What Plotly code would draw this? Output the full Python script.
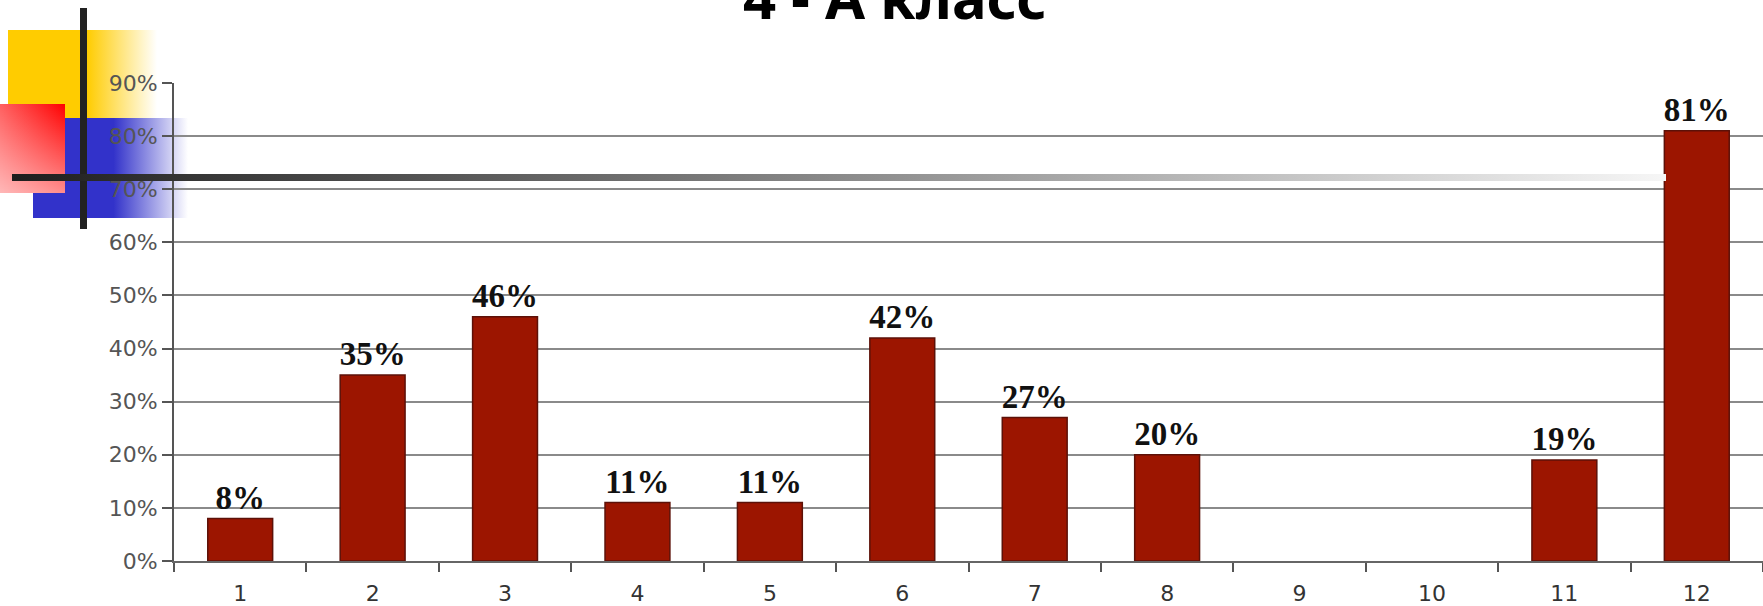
import plotly.graph_objects as go

# ---- data ----
categories = ['1', '2', '3', '4', '5', '6', '7', '8', '9', '10', '11', '12']
values = [8, 35, 46, 11, 11, 42, 27, 20, None, None, 19, 81]
y_ticks = [0, 10, 20, 30, 40, 50, 60, 70, 80, 90]
y_tick_labels = [f'{t}%' for t in y_ticks]
bar_labels = ['' if v is None else f'{v}%' for v in values]
title_text = "4 - А класс"

W, H = 1763, 606

fig = go.Figure()

def rect(x0, x1, y0, y1, colorscale, axis, gtype='horizontal', start=None, stop=None):
    fg = dict(type=gtype, colorscale=colorscale)
    if start is not None:
        fg['start'] = start
        fg['stop'] = stop
    fig.add_trace(go.Scatter(
        x=[x0, x1, x1, x0, x0], y=[y0, y0, y1, y1, y0],
        mode='lines', line=dict(width=0), fill='toself',
        fillgradient=fg, hoverinfo='skip', showlegend=False,
        xaxis=axis[0], yaxis=axis[1]))

# ---- decoration (below chart) ----
dec = ('x', 'y')
rect(8, 157, 30, 118, [[0, '#FFCC00'], [0.53, '#FFCC00'], [1, '#FFFFFF']], dec, start=8, stop=157)
rect(33, 188, 118, 218, [[0, '#3232CA'], [0.52, '#3232CA'], [1, '#FFFFFF']], dec, start=33, stop=188)
rect(0, 65, 104, 193, [[0, '#FF6060'], [1, '#FF0000']], dec, start=0, stop=65)
rect(0, 65, 104, 193, [[0, 'rgba(255,255,255,0)'], [1, 'rgba(255,255,255,0.55)']], dec,
     gtype='vertical', start=104, stop=193)

# ---- chart ----
fig.add_trace(go.Bar(
    x=categories, y=values,
    width=0.49,
    marker=dict(color='#9C1500', line=dict(color='#5c1108', width=1.5)),
    text=bar_labels, texttemplate='%{text}', textposition='outside',
    cliponaxis=False, constraintext='none',
    textfont=dict(family='Liberation Serif', size=33, color='#111111', weight='bold'),
    xaxis='x2', yaxis='y2', showlegend=False, hoverinfo='x+y'))

# ---- decoration (above chart) ----
top = ('x3', 'y3')
rect(80, 87, 8, 229, [[0, '#222222'], [1, '#222222']], top)
rect(12, 1666, 174, 181, [[0, '#1e1e1e'], [1, '#f6f6f6']], top, start=12, stop=1666)

hidden = dict(visible=False, showgrid=False, zeroline=False, fixedrange=True, automargin=False)
fig.update_layout(
    width=W, height=H,
    margin=dict(l=0, r=0, t=0, b=0, pad=0, autoexpand=False),
    paper_bgcolor='white', plot_bgcolor='rgba(0,0,0,0)',
    xaxis=dict(domain=[0, 1], range=[0, W], **hidden),
    yaxis=dict(domain=[0, 1], range=[H, 0], **hidden),
    xaxis3=dict(domain=[0, 1], range=[0, W], anchor='y3', **hidden),
    yaxis3=dict(domain=[0, 1], range=[H, 0], anchor='x3', **hidden),
    xaxis2=dict(
        domain=[174 / W, 1.0], anchor='y2', type='category', automargin=False,
        range=[-0.5, 11.5], tickson='boundaries', ticks='outside', ticklen=9,
        tickwidth=2, tickcolor='#555555', ticklabelstandoff=12,
        showline=True, linecolor='#666666', linewidth=2,
        showgrid=False, zeroline=False,
        tickfont=dict(family='DejaVu Sans', size=22, color='#333333'),
    ),
    yaxis2=dict(
        domain=[1 - 561 / H, 1 - 83 / H], anchor='x2', automargin=False,
        range=[0, 90], tickvals=y_ticks, ticktext=y_tick_labels,
        ticks='outside', ticklen=10, tickwidth=2, tickcolor='#555555',
        showline=True, linecolor='#555555', linewidth=2,
        showgrid=True, gridcolor='#8a8a8a', gridwidth=2,
        zeroline=False,
        tickfont=dict(family='DejaVu Sans', size=22, color='#555555'),
    ),
    annotations=[dict(
        text=title_text, xref='x', yref='y', x=895, y=38,
        xanchor='center', yanchor='bottom', showarrow=False,
        font=dict(family='Noto Sans', size=58, color='black', weight='bold'),
    )],
)

fig.write_html("out.html")
